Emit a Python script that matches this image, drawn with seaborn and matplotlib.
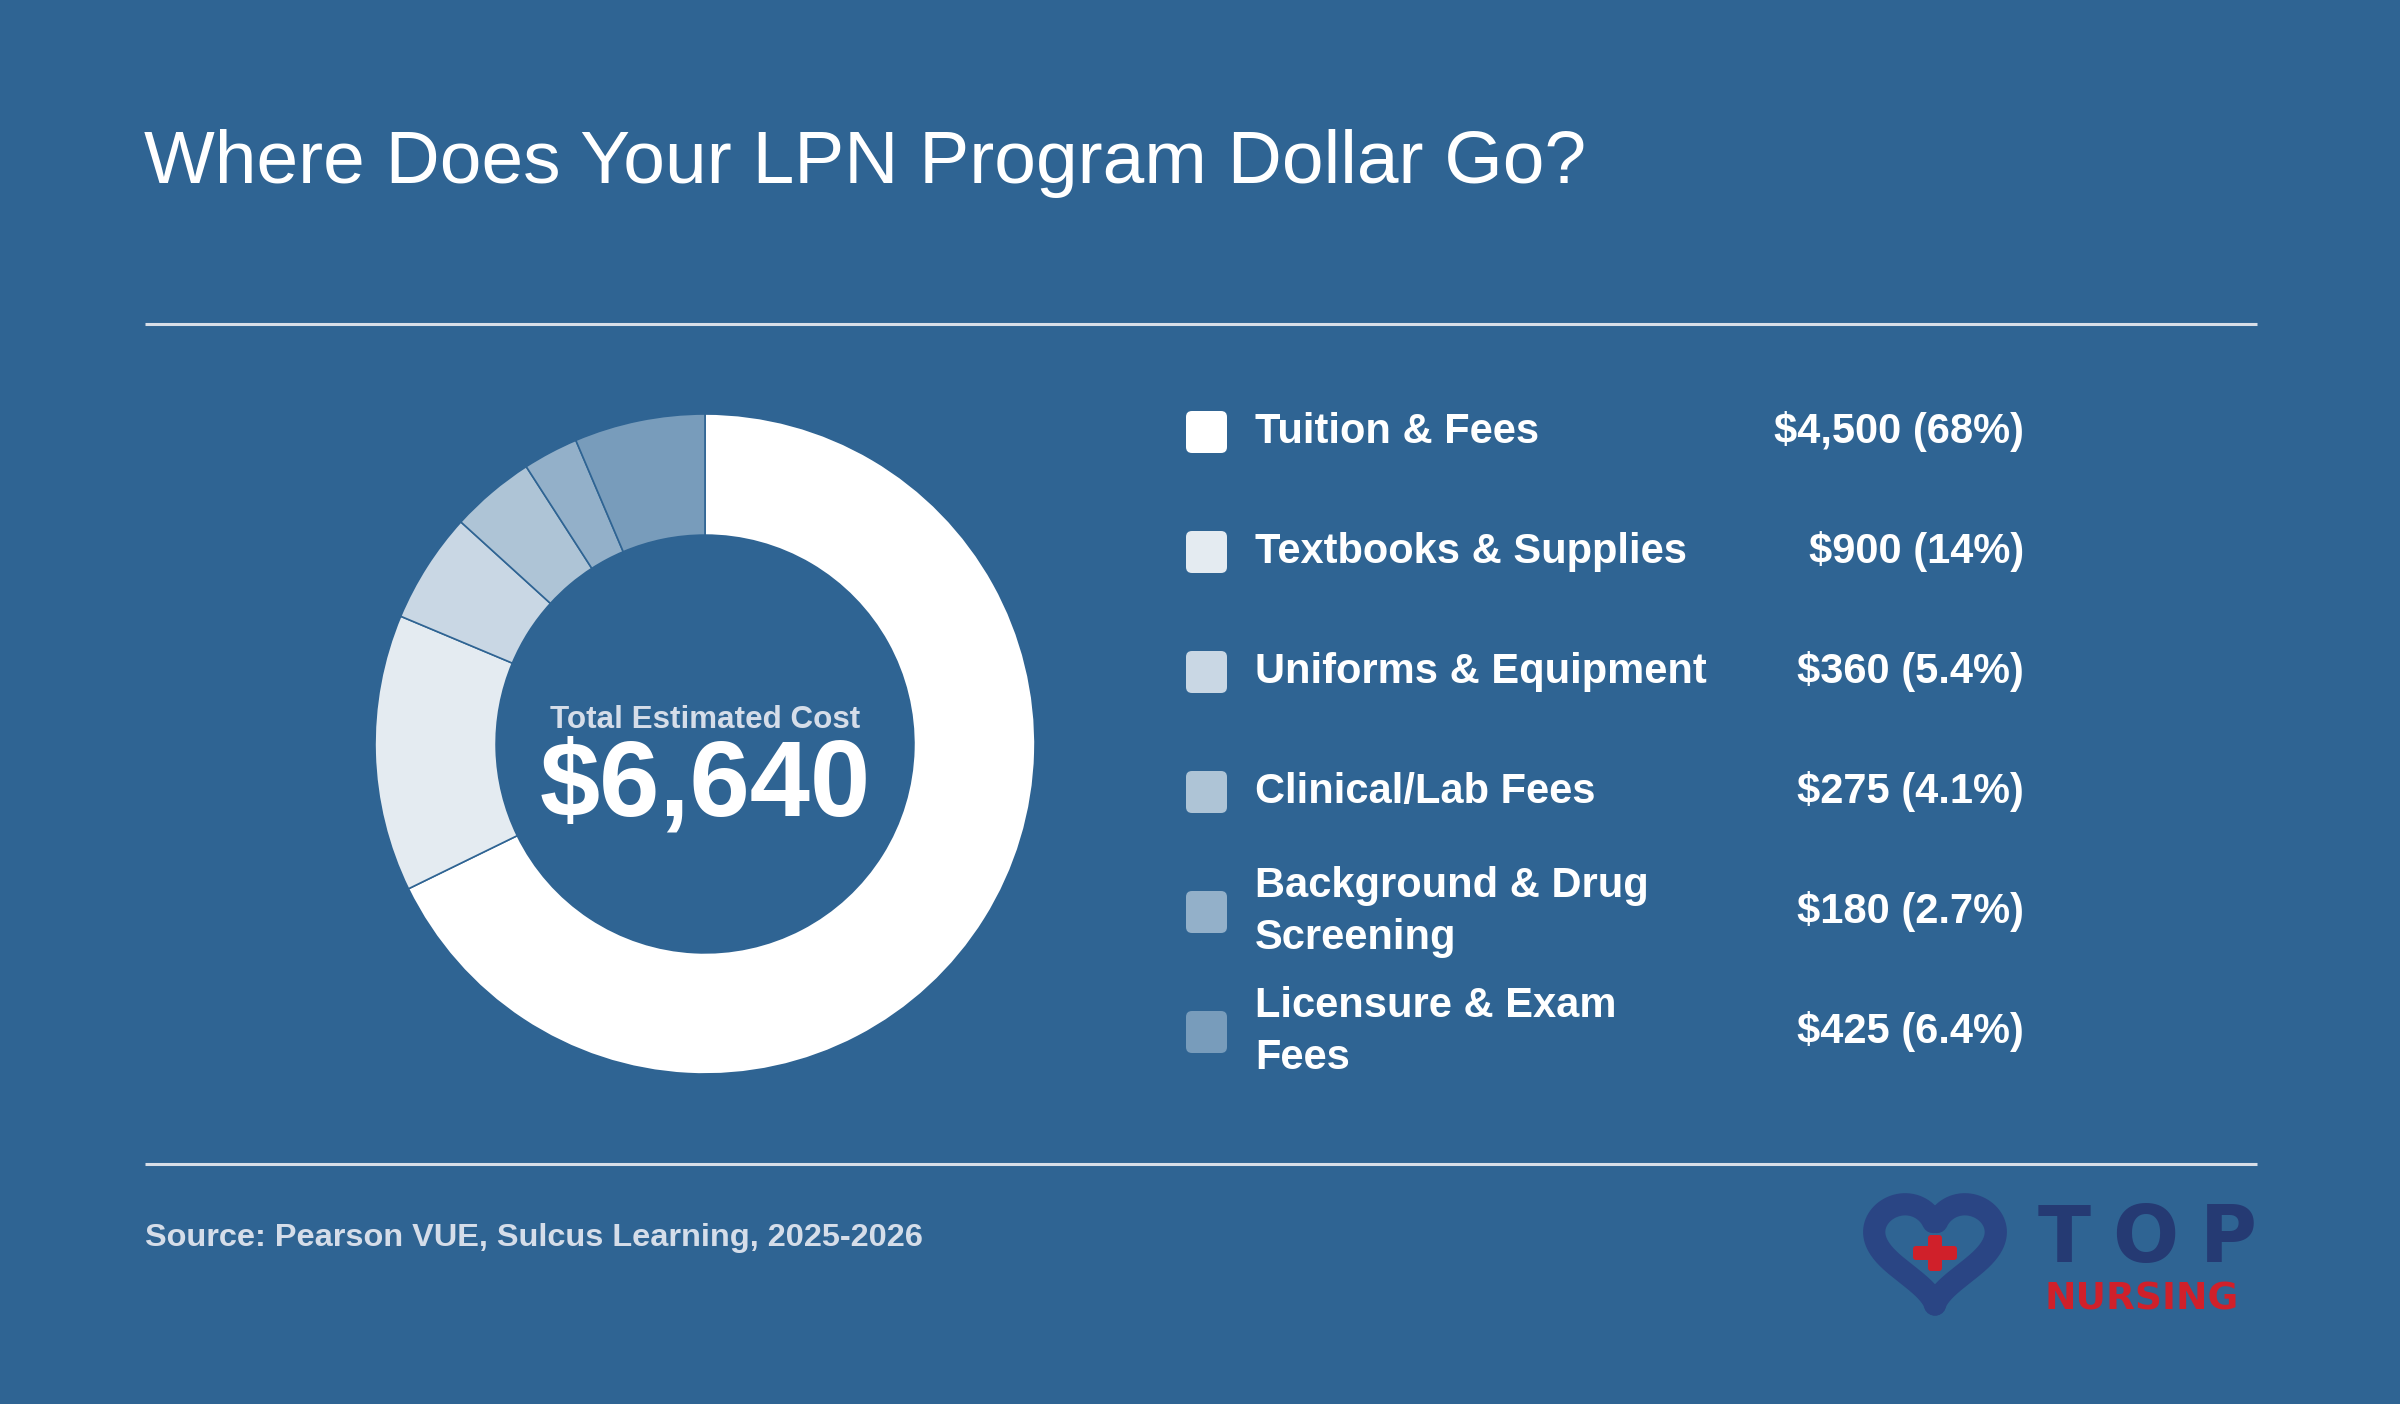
import numpy as np
import matplotlib
matplotlib.use("Agg")
import matplotlib.pyplot as plt
import seaborn as sns
from matplotlib.patches import FancyBboxPatch

# data
categories = ["Tuition & Fees", "Textbooks & Supplies", "Uniforms & Equipment",
              "Clinical/Lab Fees", "Background & Drug\nScreening", "Licensure & Exam\nFees"]
costs = [4500, 900, 360, 275, 180, 425]
pct_labels = ["68%", "14%", "5.4%", "4.1%", "2.7%", "6.4%"]
title = "Where Does Your LPN Program Dollar Go?"
source = "Source: Pearson VUE, Sulcus Learning, 2025-2026"

bg = "#2F6493"
rule_c = "#D8DEE8"
light_txt = "#D5DDE9"

sns.set_theme(style="white")
plt.rcParams['font.family'] = ['Liberation Sans', 'DejaVu Sans']

palette = sns.blend_palette(["#FFFFFF", "#789CBB"], len(costs))

fig = plt.figure(figsize=(12, 7.02), dpi=200, facecolor=bg)

# donut
cx, cy, r = 705, 744, 330
ax = fig.add_axes([(cx - r) / 2400, 1 - (cy + r) / 1404, 2 * r / 2400, 2 * r / 1404])
ax.set_facecolor("none")
ax.pie(costs, colors=palette, startangle=90, counterclock=False, radius=1,
       wedgeprops=dict(width=0.367, edgecolor=bg, linewidth=0.6))
ax.set_xlim(-1, 1)
ax.set_ylim(-1, 1)
ax.set_aspect("equal")
ax.axis("off")

# overlay in pixel coords
ov = fig.add_axes([0, 0, 1, 1], zorder=5)
ov.set_xlim(0, 2400)
ov.set_ylim(1404, 0)
ov.axis("off")
ov.patch.set_alpha(0)

ov.text(144, 183, title, fontsize=27, color="white", va="baseline", ha="left")
ov.plot([145, 2257], [324, 324], color=rule_c, lw=1.1, solid_capstyle="butt")
ov.plot([145, 2257], [1164, 1164], color=rule_c, lw=1.1, solid_capstyle="butt")
ov.text(145, 1246, source, fontsize=11.7, fontweight="bold", color=light_txt, va="baseline")

total = sum(costs)
ov.text(cx, 728, "Total Estimated Cost", fontsize=11.3, fontweight="bold",
        color=light_txt, ha="center", va="baseline")
ov.text(cx, 816, f"${total:,}", fontsize=39, fontweight="bold",
        color="white", ha="center", va="baseline")

# legend
for i, (cat, c, p) in enumerate(zip(categories, costs, pct_labels)):
    y = 432 + 120 * i
    sw = FancyBboxPatch((1186 + 6, y - 21 + 6), 41 - 12, 42 - 12,
                        boxstyle="round,pad=6", fc=palette[i], ec="none")
    ov.add_patch(sw)
    ov.text(1255, y, cat, fontsize=15, fontweight="bold", color="white",
            va="center", ha="left", linespacing=1.4)
    ov.text(2024, y, f"${c:,} ({p})", fontsize=15, fontweight="bold",
            color="white", va="center", ha="right")

# logo
t = np.linspace(0, 2 * np.pi, 400)
hx = 16 * np.sin(t) ** 3
hy = 13 * np.cos(t) - 5 * np.cos(2 * t) - 2 * np.cos(3 * t) - np.cos(4 * t)
hx = 1935 + hx * 3.8
hy = 1246 - hy * 3.5
keep1 = (t > 0.3) & (t < np.pi - 0.12)
keep2 = (t > np.pi + 0.12) & (t < 2 * np.pi - 0.3)
for k in (keep1, keep2):
    ov.plot(hx[k], hy[k], color="#2A4584", lw=8, solid_capstyle="round")
ov.add_patch(FancyBboxPatch((1916, 1249), 38, 8, boxstyle="round,pad=3",
                            fc="#D0202A", ec="none"))
ov.add_patch(FancyBboxPatch((1931, 1238), 8, 30, boxstyle="round,pad=3",
                            fc="#D0202A", ec="none"))
for letter, lx in zip("TOP", [2064, 2145, 2228]):
    ov.text(lx, 1262, letter, fontsize=28, color="#253A73", ha="center",
            va="baseline", family="DejaVu Sans", fontweight="bold")
ov.text(2142, 1310, "NURSING", fontsize=13.5, fontweight="bold", color="#D0202A",
        ha="center", va="baseline", family="DejaVu Sans")

fig.savefig("out.png", dpi=200, facecolor=bg)
